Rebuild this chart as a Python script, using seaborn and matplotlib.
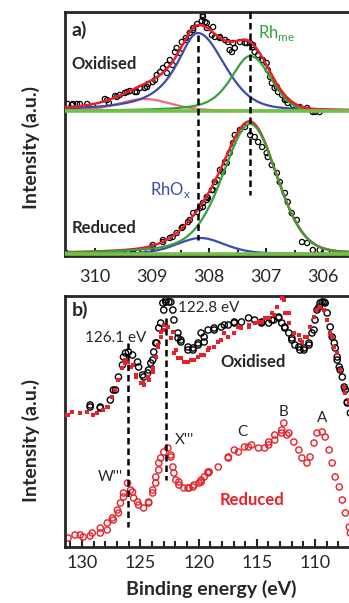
import numpy as np
import matplotlib
matplotlib.use("Agg")
import matplotlib.pyplot as plt
import seaborn as sns
from matplotlib.ticker import MultipleLocator

# ---- panel a) Rh 3d5/2 XPS ----
ox_e = [310.48, 310.41, 310.39, 310.32, 310.27, 310.14, 310.04, 309.83, 309.79, 309.76,
        309.65, 309.62, 309.57, 309.48, 309.44, 309.39, 309.30, 309.27, 309.21, 309.13,
        309.09, 309.07, 308.99, 308.95, 308.92, 308.86, 308.81, 308.74, 308.74, 308.69,
        308.64, 308.60, 308.57, 308.51, 308.48, 308.41, 308.39, 308.34, 308.28, 308.28,
        308.21, 308.13, 308.11, 308.11, 308.07, 308.04, 308.04, 307.95, 307.93, 307.90,
        307.81, 307.81, 307.72, 307.67, 307.64, 307.60, 307.58, 307.55, 307.46, 307.37,
        307.34, 307.28, 307.23, 307.23, 307.20, 307.14, 307.07, 307.06, 306.99, 306.97,
        306.93, 306.90, 306.85, 306.81, 306.79, 306.72, 306.67, 306.64, 306.62, 306.53,
        306.41, 306.28, 306.18, 306.14, 306.06]
ox_i = [151, 150, 151, 151, 151, 151, 149, 156, 155, 152,
        159, 158, 160, 162, 163, 164, 163, 163, 167, 167,
        168, 171, 173, 175, 180, 183, 187, 190, 182, 195,
        190, 203, 207, 202, 213, 217, 215, 222, 227, 225,
        231, 234, 238, 240, 233, 227, 232, 220, 228, 218,
        217, 218, 215, 213, 205, 203, 212, 207, 213, 212,
        212, 212, 210, 208, 203, 200, 195, 195, 192, 185,
        178, 172, 167, 168, 163, 160, 155, 155, 152, 150,
        148, 147, 143, 143, 143]

red_e = [310.48, 310.39, 310.30, 310.21, 310.13, 310.04, 309.95, 309.86, 309.78, 309.69,
         309.60, 309.51, 309.42, 309.34, 309.25, 309.16, 308.99, 308.99, 308.81, 308.81,
         308.69, 308.64, 308.57, 308.48, 308.46, 308.37, 308.34, 308.28, 308.21, 308.16,
         308.11, 308.11, 308.04, 308.04, 308.02, 307.95, 307.93, 307.90, 307.85, 307.81,
         307.76, 307.72, 307.69, 307.64, 307.58, 307.55, 307.46, 307.37, 307.28, 307.20,
         307.14, 307.07, 306.99, 306.97, 306.90, 306.81, 306.76, 306.67, 306.62, 306.55,
         306.46, 306.37, 306.28, 306.18, 306.06, 305.85, 305.71, 305.60]
red_i = [1, -1, 0, -1, 0, -1, 0, 0, 1, 0,
         1, 0, 2, 1, 3, 4, 8, 10, 15, 13,
         17, 18, 22, 27, 28, 33, 35, 42, 43, 47,
         48, 52, 55, 58, 57, 65, 65, 73, 75, 85,
         83, 93, 92, 102, 112, 120, 125, 128, 120, 118,
         113, 108, 102, 98, 90, 82, 73, 62, 53, 42,
         35, 13, 12, 5, 5, 2, 0, 1]

# fit components: centre, height, hwhm / lorentz fraction on high-BE side, then on low-BE side
ox_background = 144
ox_rhox = (308.20, 78, 0.45, 0.55, 0.9, 0.3)
ox_rhme = (307.28, 55, 0.40, 0.42, 0.6, 0.0)
ox_extra = (309.13, 12, 0.55, 0.55, 0.3, 0.3)
red_background = 1
red_rhme = (307.28, 130, 0.58, 0.55, 0.4, 0.15)
red_rhox = (308.15, 16, 0.50, 0.50, 0.3, 0.3)

# ---- panel b) Rh MNN region ----
oxc_e = [129.31, 129.31, 128.44, 128.44, 127.58, 127.32, 127.14, 126.88, 126.54, 126.45,
         126.28, 126.02, 125.67, 125.24, 125.15, 124.81, 124.72, 124.37, 124.29, 124.11,
         123.94, 123.85, 123.68, 123.59, 123.42, 123.25, 123.07, 122.99, 122.81, 122.81,
         122.55, 122.38, 122.21, 122.12, 121.77, 121.77, 121.52, 121.52, 120.91, 120.91,
         120.48, 120.48, 120.04, 120.04, 119.78, 119.52, 119.52, 119.18, 118.66, 118.66,
         118.05, 117.79, 117.45, 116.93, 116.93, 116.32, 115.71, 115.19, 114.59, 114.59,
         113.98, 113.72, 113.55, 113.12, 113.12, 112.86, 112.60, 112.60, 112.25, 111.99,
         111.99, 111.73, 111.39, 111.30, 110.95, 110.95, 110.52, 110.52, 110.26, 110.09,
         110.00, 109.83, 109.65, 109.57, 109.39, 109.22, 109.13, 108.96, 108.70, 108.53,
         108.35, 108.27, 108.10, 108.10, 107.92, 107.84, 107.66, 107.49, 107.40, 107.23,
         107.23, 106.97]
oxc_i = [140, 142, 139, 140, 147, 157, 157, 170, 182, 190,
         194, 195, 192, 185, 180, 172, 170, 174, 177, 184,
         187, 195, 204, 204, 219, 224, 244, 237, 245, 247,
         245, 245, 237, 227, 209, 214, 205, 207, 200, 197,
         197, 199, 204, 202, 214, 210, 205, 217, 217, 219,
         220, 222, 222, 225, 224, 225, 229, 227, 225, 224,
         224, 227, 227, 229, 230, 224, 220, 219, 214, 209,
         207, 202, 200, 197, 197, 199, 202, 204, 214, 217,
         227, 237, 240, 244, 245, 245, 244, 234, 220, 210,
         204, 199, 187, 190, 180, 177, 170, 160, 157, 145,
         144, 134]

oxs_e = [131.30, 131.21, 130.87, 130.17, 129.57, 129.05, 128.70, 128.18, 127.84, 127.75,
         127.40, 127.14, 126.88, 126.54, 126.28, 126.28, 126.02, 125.84, 125.67, 125.41,
         125.41, 124.98, 124.81, 124.72, 124.37, 124.29, 123.94, 123.94, 123.68, 123.51,
         123.51, 123.25, 123.25, 122.99, 122.99, 122.64, 122.38, 122.21, 122.12, 121.95,
         121.77, 121.52, 121.26, 120.91, 120.65, 120.39, 120.04, 119.78, 119.52, 119.18,
         119.09, 118.66, 118.31, 118.05, 117.79, 117.45, 116.93, 116.58, 116.32, 115.71,
         115.71, 115.19, 114.85, 114.59, 114.33, 113.98, 113.72, 113.55, 113.29, 112.86,
         112.68, 112.60, 112.25, 112.25, 111.82, 111.39, 111.30, 111.13, 110.87, 110.69,
         110.43, 110.09, 109.83, 109.57, 109.22, 108.96, 108.70, 108.53, 108.35, 108.10,
         107.84, 107.49, 107.40, 107.06, 107.06]
oxs_i = [132, 132, 135, 134, 135, 132, 134, 137, 140, 140,
         150, 157, 167, 179, 184, 187, 185, 180, 182, 172,
         170, 164, 164, 162, 170, 167, 179, 175, 190, 200,
         202, 210, 215, 217, 222, 220, 209, 215, 194, 197,
         189, 189, 185, 185, 187, 187, 190, 192, 192, 197,
         199, 200, 205, 207, 214, 210, 214, 220, 219, 222,
         220, 224, 225, 225, 229, 229, 234, 232, 240, 249,
         247, 234, 234, 224, 214, 212, 207, 205, 210, 210,
         220, 230, 237, 240, 237, 227, 214, 210, 200, 194,
         177, 160, 154, 147, 144]

rdc_e = [131.21, 130.61, 130.17, 129.91, 129.31, 129.13, 128.44, 128.44, 127.84, 127.84,
         127.40, 127.32, 126.97, 126.88, 126.71, 126.45, 126.45, 126.10, 125.84, 125.67,
         125.58, 125.24, 125.15, 124.72, 124.29, 124.29, 123.94, 123.94, 123.68, 123.68,
         123.42, 123.42, 123.25, 122.99, 122.64, 122.38, 122.38, 122.21, 122.12, 121.95,
         121.69, 121.69, 121.26, 120.91, 120.82, 120.48, 120.39, 119.96, 119.78, 119.78,
         119.52, 119.18, 119.18, 119.09, 118.31, 117.45, 117.45, 116.93, 116.58, 116.06,
         115.71, 115.45, 114.85, 114.33, 113.98, 113.98, 113.46, 113.46, 112.86, 112.86,
         112.68, 112.42, 112.25, 111.82, 111.39, 111.13, 110.69, 110.43, 110.09, 109.83,
         109.39, 109.13, 108.79, 108.53, 108.27, 107.92, 107.66, 107.40, 107.06, 106.97]
rdc_i = [9, 12, 12, 10, 11, 14, 14, 19, 17, 24,
         29, 27, 37, 34, 44, 54, 50, 64, 57, 55,
         49, 45, 42, 39, 44, 45, 54, 57, 64, 70,
         77, 84, 89, 95, 99, 92, 90, 80, 74, 67,
         62, 65, 59, 59, 59, 60, 62, 64, 65, 67,
         70, 74, 75, 75, 80, 89, 90, 97, 95, 100,
         100, 102, 99, 99, 102, 105, 107, 112, 114, 117,
         124, 112, 114, 105, 97, 89, 84, 90, 104, 114,
         115, 110, 97, 84, 70, 60, 47, 34, 20, 14]


def peak(x, p):
    c, h, wl, wr, el, er = p
    w = np.where(x >= c, wl, wr)
    eta = np.where(x >= c, el, er)
    u = (x - c) / w
    return h * (eta / (1 + u ** 2) + (1 - eta) * np.exp(-np.log(2) * u ** 2))


sns.set_style("ticks")
plt.rcParams["font.family"] = ["Lato", "DejaVu Sans"]
plt.rcParams["axes.linewidth"] = 2

BLUE = "#3b4cb0"
GREEN = "#35a23a"
LGREEN = "#74bf44"
RED = "#e8202a"
PINK = "#ee6a86"
DASH = (0, (2.6, 1.6))

fig = plt.figure(figsize=(3.49, 6.03), dpi=100)
ax1 = fig.add_axes([65 / 349, 1 - 256 / 603, 0.87, 244 / 603])
ax2 = fig.add_axes([65 / 349, 1 - 547 / 603, 0.87, 251 / 603])

# panel a
xf = np.linspace(310.6, 305.1, 500)
sns.scatterplot(x=ox_e, y=ox_i, ax=ax1, marker="o", s=14,
                facecolor="none", edgecolor="black", linewidth=0.9, zorder=2)
sns.scatterplot(x=red_e, y=red_i, ax=ax1, marker="o", s=14,
                facecolor="none", edgecolor="black", linewidth=0.9, zorder=2)

ox_parts = [(ox_extra, PINK), (ox_rhox, BLUE), (ox_rhme, GREEN)]
for p, col in ox_parts:
    sns.lineplot(x=xf, y=ox_background + peak(xf, p), ax=ax1, color=col, lw=1.6, zorder=3)
ox_fit = ox_background + sum(peak(xf, p) for p, _ in ox_parts)
sns.lineplot(x=xf, y=ox_fit, ax=ax1, color=RED, lw=1.8, zorder=4)

red_parts = [(red_rhox, BLUE), (red_rhme, GREEN)]
red_fit = red_background + sum(peak(xf, p) for p, _ in red_parts)
sns.lineplot(x=xf, y=red_fit, ax=ax1, color=RED, lw=1.8, zorder=3)
for p, col in red_parts:
    sns.lineplot(x=xf, y=red_background + peak(xf, p), ax=ax1, color=col, lw=1.6, zorder=4)

ax1.axhline(ox_background, color=LGREEN, lw=2.6, zorder=5)
ax1.axhline(red_background, color=LGREEN, lw=2.6, zorder=5)

ax1.plot([308.2, 308.2], [220, 15], color="black", lw=1.8, ls=DASH, zorder=6)
ax1.plot([307.28, 307.28], [243, 60], color="black", lw=1.8, ls=DASH, zorder=6)

ax1.set_xlim(310.53, 305.2)
ax1.set_ylim(-1, 243)
ax1.xaxis.set_major_locator(MultipleLocator(1))
ax1.xaxis.set_minor_locator(MultipleLocator(0.5))

ax1.text(310.41, 225, "a)", fontsize=14, fontweight="bold", va="center")
ax1.text(310.41, 191, "Oxidised", fontsize=12, fontweight="bold", va="center")
ax1.text(307.14, 222, "Rh$_{\\mathregular{me}}$", fontsize=12, color=GREEN, va="center")
ax1.text(309.04, 65, "RhO$_{\\mathregular{x}}$", fontsize=12, color=BLUE, va="center")
ax1.text(310.41, 27, "Reduced", fontsize=12, fontweight="bold", va="center")

# panel b
sns.scatterplot(x=oxs_e, y=oxs_i, ax=ax2, marker="s", s=6,
                color=RED, linewidth=0, zorder=3)
sns.scatterplot(x=oxc_e, y=oxc_i, ax=ax2, marker="o", s=20,
                facecolor="none", edgecolor="black", linewidth=1.0, zorder=2)
sns.scatterplot(x=rdc_e, y=rdc_i, ax=ax2, marker="o", s=20,
                facecolor="none", edgecolor=RED, linewidth=1.0, zorder=2)

ax2.plot([126.1, 126.1], [204, 20], color="black", lw=1.8, ls=DASH, zorder=4)
ax2.plot([122.8, 122.8], [229, 67], color="black", lw=1.8, ls=DASH, zorder=4)

ax2.set_xlim(131.47, 105.4)
ax2.set_ylim(0, 251)
ax2.xaxis.set_major_locator(MultipleLocator(5))
ax2.xaxis.set_minor_locator(MultipleLocator(1))

ax2.text(130.87, 237, "b)", fontsize=14, fontweight="bold", va="center")
ax2.text(127.14, 209, "126.1 eV", fontsize=11, ha="center", va="center")
ax2.text(119.1, 239, "122.8 eV", fontsize=11, ha="center", va="center")
ax2.text(115.3, 185, "Oxidised", fontsize=12, fontweight="bold", ha="center", va="center")
ax2.text(121.25, 107, "X'''", fontsize=11, ha="center", va="center")
ax2.text(127.6, 70, "W'''", fontsize=11, ha="center", va="center")
ax2.text(116.25, 115, "C", fontsize=11, ha="center", va="center")
ax2.text(112.7, 135, "B", fontsize=11, ha="center", va="center")
ax2.text(109.4, 129, "A", fontsize=11, ha="center", va="center")
ax2.text(115.4, 47, "Reduced", fontsize=12, fontweight="bold", color=RED, ha="center", va="center")

for ax in (ax1, ax2):
    ax.set_yticks([])
    ax.tick_params(axis="x", which="major", direction="in", length=6, width=1.5, labelsize=13)
    ax.tick_params(axis="x", which="minor", direction="in", length=4, width=1.5)
    ax.set_ylabel("Intensity (a.u.)", fontsize=14, fontweight="bold")
    ax.spines["right"].set_visible(False)
ax1.tick_params(axis="x", which="major", pad=9)
ax2.tick_params(axis="x", which="major", pad=6)
ax1.yaxis.set_label_coords(-0.083, 0.444)
ax2.yaxis.set_label_coords(-0.083, 0.426)
ax2.set_xlabel("Binding energy (eV)", fontsize=14, fontweight="bold")
ax2.xaxis.set_label_coords(0.481, -0.13)

fig.savefig("out.png", dpi=100)
